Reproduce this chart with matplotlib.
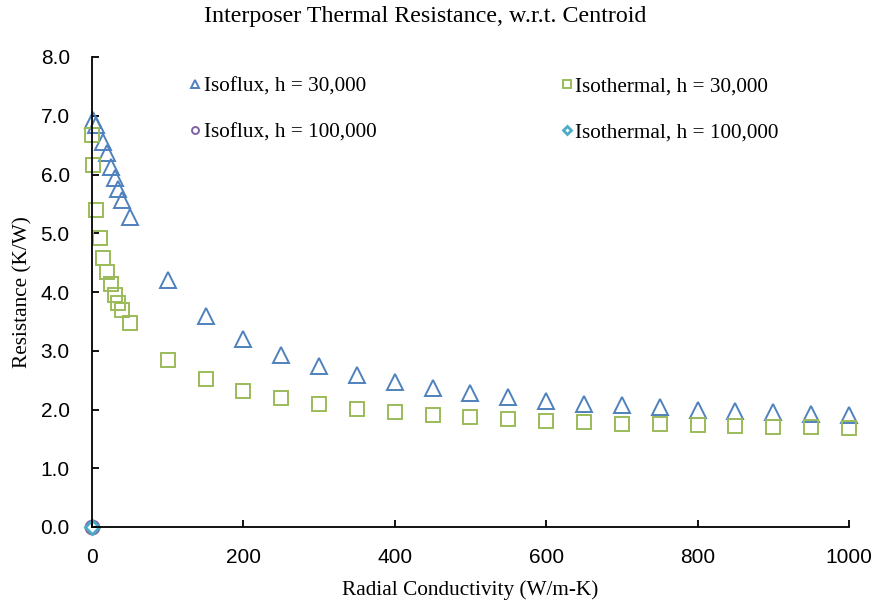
import matplotlib
matplotlib.use("Agg")
import matplotlib.pyplot as plt

# Radial conductivity sweep (W/m-K)
k_low = [0.1, 1, 5, 10, 15, 20, 25, 30, 35, 40, 50]
k_high = [100, 150, 200, 250, 300, 350, 400, 450, 500, 550, 600,
          650, 700, 750, 800, 850, 900, 950, 1000]

# Isoflux, h = 30,000
isoflux_k = [1, 5, 15, 20, 25, 30, 35, 40, 50] + k_high
isoflux_r = [6.93, 6.84, 6.56, 6.36, 6.13, 5.94, 5.75, 5.56, 5.27,
             4.20, 3.59, 3.20, 2.93, 2.74, 2.59, 2.47, 2.37, 2.28, 2.21,
             2.14, 2.10, 2.07, 2.04, 2.00, 1.98, 1.95, 1.93, 1.90]

# Isothermal, h = 30,000
isothermal_k = k_low + k_high
isothermal_r = [6.68, 6.17, 5.40, 4.92, 4.58, 4.34, 4.13, 3.95, 3.82, 3.69, 3.48,
                2.85, 2.52, 2.32, 2.19, 2.09, 2.01, 1.96, 1.91, 1.87, 1.84,
                1.81, 1.78, 1.76, 1.75, 1.73, 1.72, 1.71, 1.70, 1.68]

# h = 100,000 runs
isoflux100_k = [0]
isoflux100_r = [0]
isothermal100_k = [0]
isothermal100_r = [0]

fig = plt.figure(figsize=(8.77, 6.08), dpi=100)
ax = fig.add_axes([92 / 877, 81 / 608, 757 / 877, 470 / 608])

serif = "Liberation Serif"
sans = "Liberation Sans"

ax.plot(isoflux_k, isoflux_r, linestyle="none", marker="^", markersize=11,
        markerfacecolor="none", markeredgecolor="#4F81BD", markeredgewidth=1.4,
        label="Isoflux, h = 30,000", clip_on=False)
ax.plot(isoflux100_k, isoflux100_r, linestyle="none", marker="o", markersize=10,
        markerfacecolor="none", markeredgecolor="#8064A2", markeredgewidth=1.4,
        label="Isoflux, h = 100,000", clip_on=False)
ax.plot(isothermal_k, isothermal_r, linestyle="none", marker="s", markersize=10.5,
        markerfacecolor="none", markeredgecolor="#9BBB59", markeredgewidth=1.4,
        label="Isothermal, h = 30,000", clip_on=False)
ax.plot(isothermal100_k, isothermal100_r, linestyle="none", marker="D", markersize=7.5,
        markerfacecolor="none", markeredgecolor="#4BACC6", markeredgewidth=2.0,
        label="Isothermal, h = 100,000", clip_on=False)

ax.set_xlim(0, 1000)
ax.set_ylim(0, 8)
ax.set_xticks(range(0, 1001, 200))
ax.set_yticks([i * 1.0 for i in range(9)])
ax.set_yticklabels(["%.1f" % v for v in ax.get_yticks()])

for s in ["top", "right"]:
    ax.spines[s].set_visible(False)
for s in ["left", "bottom"]:
    ax.spines[s].set_color("black")
    ax.spines[s].set_linewidth(1.3)
ax.tick_params(axis="y", direction="in", length=5, width=1.3, pad=16)
ax.tick_params(axis="x", direction="in", length=5, width=1.3, pad=15)
for lbl in ax.get_xticklabels() + ax.get_yticklabels():
    lbl.set_fontfamily(sans)
    lbl.set_fontsize(15)

fig.text(0.4846, 0.9643, "Interposer Thermal Resistance, w.r.t. Centroid",
         ha="center", va="baseline", fontfamily=serif, fontsize=17.3)
ax.set_xlabel("Radial Conductivity (W/m-K)", fontfamily=serif, fontsize=15.3, labelpad=10)
ax.set_ylabel("Resistance (K/W)", fontfamily=serif, fontsize=15.3, labelpad=6)

ax.legend(loc="upper left", bbox_to_anchor=(0.1263, 0.958), ncol=2, frameon=False,
          borderpad=0, borderaxespad=0,
          markerscale=0.5, handletextpad=0.05, handlelength=0.7,
          columnspacing=8.62, labelspacing=1.24,
          prop={"family": serif, "size": 15.3})

plt.savefig("out.png", dpi=100)
